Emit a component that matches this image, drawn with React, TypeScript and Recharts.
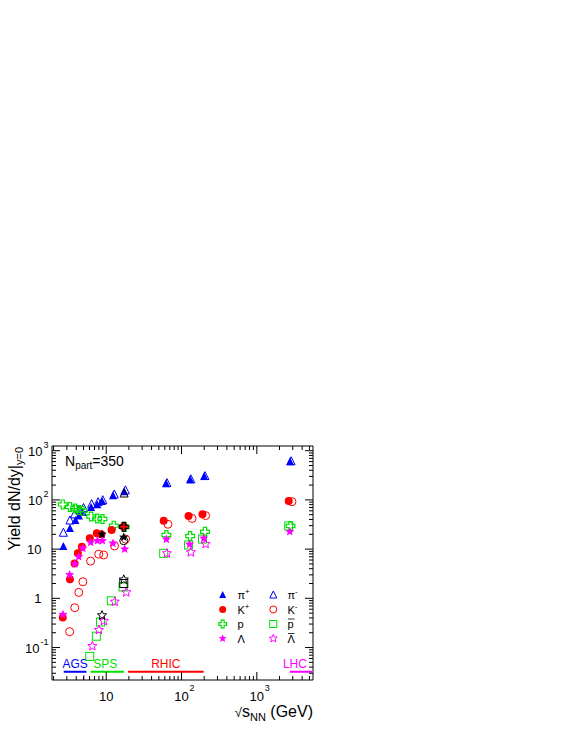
import React from "react";
import { ScatterChart, Scatter, XAxis, YAxis, ReferenceLine } from "recharts";

// sqrt(s_NN) in GeV and dN/dy at y=0
// (open markers are drawn a little to the right of the filled ones)
const piPlusE = [2.7, 3.3, 3.9, 4.35, 4.9, 6.3, 7.6, 8.8, 12.3, 17.3, 62.4, 130, 200, 2760];
const piPlusY = [11.5, 27, 39, 48, 57, 72, 82, 95, 125, 150, 218, 262, 305, 610];
const piMinusE = [2.7, 3.3, 3.8, 4.4, 5.0, 6.4, 7.8, 9.0, 12.8, 18.0, 64, 133, 205, 2850];
const piMinusY = [22, 39, 52, 63, 70, 84, 92, 101, 132, 160, 225, 268, 312, 625];
const kPlusE = [2.65, 3.3, 3.8, 4.2, 4.75, 6.05, 7.5, 8.6, 11.8, 17.0, 58, 124, 190, 2650];
const kPlusY = [0.41, 2.43, 5.1, 8.2, 11.2, 16.6, 21, 20, 24.4, 28.5, 37.8, 47, 51, 95];
const kMinusE = [3.27, 3.82, 4.32, 4.9, 6.2, 7.95, 9.25, 12.9, 18.1, 66, 138, 209, 2930];
const kMinusY = [0.21, 0.645, 1.32, 2.17, 5.7, 7.9, 7.6, 11.6, 16, 32, 42, 48, 92];
const protonE = [2.65, 3.3, 3.85, 4.35, 4.85, 6.3, 7.6, 8.9, 12.6, 17.6, 63, 130, 205, 2800];
const protonY = [81, 72, 67, 62, 60, 46, 42, 41, 30, 28, 19.4, 18.5, 22.6, 29.5];
const pbarE = [6.05, 7.4, 8.4, 11.7, 16.7, 58, 124, 190, 2650];
const pbarY = [0.066, 0.17, 0.33, 0.89, 1.7, 8.2, 12.1, 16, 29.5];
const lambdaE = [2.67, 3.27, 3.82, 4.32, 4.9, 6.22, 7.64, 8.9, 12.3, 17.6, 63, 128, 197, 2740];
const lambdaY = [0.47, 3.0, 5.0, 7.0, 10.4, 13.7, 14.8, 14.8, 13.1, 10, 15.8, 12.5, 16.6, 22.6];
const lambdaBarE = [6.55, 8.0, 9.3, 13.0, 18.5, 64, 133, 209];
const lambdaBarY = [0.107, 0.227, 0.346, 0.85, 1.32, 8.2, 8.6, 12.7];

// the black SPS points
const blackStarE = [8.8, 17.1];
const blackStarY = [20, 17.5];
const blackOpenStarE = [8.8, 17.1];
const blackOpenStarY = [0.45, 2.4];
const blackCircleE = [17.1];
const blackCircleY = [14.8];
const blackCrossE = [17.1];
const blackCrossY = [28.5];
const blackTriE = [17.3];
const blackTriY = [138];
const blackSquareE = [17.1];
const blackSquareY = [2.0];

// accelerator ranges drawn along the bottom
const rangeNames = ["AGS", "SPS", "RHIC", "LHC"];
const rangeFrom = [2.73, 6.22, 19.5, 2740];
const rangeTo = [5.46, 17.2, 197, 5400];
const rangeLevel = 0.0322;

const xTicks = [2, 3, 4, 5, 6, 7, 8, 9, 10, 20, 30, 40, 50, 60, 70, 80, 90, 100, 200, 300, 400, 500, 600, 700, 800, 900, 1000, 2000, 3000, 4000, 5000];
const yTicks = [0.03, 0.04, 0.05, 0.06, 0.07, 0.08, 0.09, 0.1, 0.2, 0.3, 0.4, 0.5, 0.6, 0.7, 0.8, 0.9, 1, 2, 3, 4, 5, 6, 7, 8, 9, 10, 20, 30, 40, 50, 60, 70, 80, 90, 100, 200, 300, 400, 500, 600, 700, 800, 900, 1000];

const BLUE = "#0000ff";
const RED = "#ff0000";
const GREEN = "#00e000";
const MAGENTA = "#ff00ff";
const BLACK = "#000000";
const FONT = "'Liberation Sans', Arial, Helvetica, sans-serif";

const pts = (xs: number[], ys: number[]) => xs.map((x, i) => ({ x, y: ys[i] }));

const isMajor = (v: number) => Math.abs(Math.log10(v) - Math.round(Math.log10(v))) < 1e-6;

function Marker({ kind, cx, cy, color, s = 4 }: any) {
  if (kind === "tri" || kind === "triOpen") {
    const p = `${cx},${cy - s} ${cx + s},${cy + s} ${cx - s},${cy + s}`;
    return kind === "tri" ? (
      <polygon points={p} fill={color} />
    ) : (
      <polygon points={p} fill="none" stroke={color} strokeWidth={1} />
    );
  }
  if (kind === "dot") return <circle cx={cx} cy={cy} r={s} fill={color} />;
  if (kind === "circle") return <circle cx={cx} cy={cy} r={s} fill="none" stroke={color} strokeWidth={1} />;
  if (kind === "square")
    return <rect x={cx - s} y={cy - s} width={2 * s} height={2 * s} fill="none" stroke={color} strokeWidth={1} />;
  if (kind === "cross") {
    const a = s * 0.4;
    const b = s * 1.1;
    const c = [
      [-a, -b], [a, -b], [a, -a], [b, -a], [b, a], [a, a],
      [a, b], [-a, b], [-a, a], [-b, a], [-b, -a], [-a, -a],
    ];
    return (
      <polygon
        points={c.map(([dx, dy]) => `${cx + dx},${cy + dy}`).join(" ")}
        fill="none"
        stroke={color}
        strokeWidth={1.2}
      />
    );
  }
  // stars
  const R = s * 1.2;
  const r = R * 0.45;
  const p: string[] = [];
  for (let i = 0; i < 10; i++) {
    const ang = -Math.PI / 2 + (i * Math.PI) / 5;
    const rr = i % 2 === 0 ? R : r;
    p.push(`${cx + rr * Math.cos(ang)},${cy + rr * Math.sin(ang)}`);
  }
  return kind === "star" ? (
    <polygon points={p.join(" ")} fill={color} />
  ) : (
    <polygon points={p.join(" ")} fill="none" stroke={color} strokeWidth={1} />
  );
}

const series = [
  { id: "pip", xs: piPlusE, ys: piPlusY, kind: "tri", color: BLUE },
  { id: "pim", xs: piMinusE, ys: piMinusY, kind: "triOpen", color: BLUE },
  { id: "p", xs: protonE, ys: protonY, kind: "cross", color: GREEN },
  { id: "pbar", xs: pbarE, ys: pbarY, kind: "square", color: GREEN },
  { id: "kp", xs: kPlusE, ys: kPlusY, kind: "dot", color: RED },
  { id: "km", xs: kMinusE, ys: kMinusY, kind: "circle", color: RED },
  { id: "lam", xs: lambdaE, ys: lambdaY, kind: "star", color: MAGENTA },
  { id: "lambar", xs: lambdaBarE, ys: lambdaBarY, kind: "starOpen", color: MAGENTA },
  { id: "bTri", xs: blackTriE, ys: blackTriY, kind: "triOpen", color: BLACK },
  { id: "bCross", xs: blackCrossE, ys: blackCrossY, kind: "cross", color: BLACK },
  { id: "bCircle", xs: blackCircleE, ys: blackCircleY, kind: "circle", color: BLACK },
  { id: "bSquare", xs: blackSquareE, ys: blackSquareY, kind: "square", color: BLACK },
  { id: "bStar", xs: blackStarE, ys: blackStarY, kind: "star", color: BLACK },
  { id: "bOpenStar", xs: blackOpenStarE, ys: blackOpenStarY, kind: "starOpen", color: BLACK },
];

const rangeColors = [BLUE, GREEN, RED, MAGENTA];
const rangeLabelShift = [0, -2, 0, -6];

const BottomTick = (props: any) => {
  const { x, y, payload } = props;
  const v = payload.value;
  const major = isMajor(v);
  const e = Math.round(Math.log10(v));
  return (
    <g>
      <line x1={x} x2={x} y1={y} y2={y - (major ? 8 : 4)} stroke="#000" />
      {major && (
        <g fontFamily={FONT} fill="#000">
          <text x={x} y={y + 21} textAnchor="middle" fontSize={13}>10</text>
          {e > 1 && <text x={x + 8} y={y + 11} fontSize={9}>{e}</text>}
        </g>
      )}
    </g>
  );
};

const TopTick = (props: any) => {
  const { x, y, payload } = props;
  const major = isMajor(payload.value);
  return <line x1={x} x2={x} y1={y} y2={y + (major ? 8 : 4)} stroke="#000" />;
};

const LeftTick = (props: any) => {
  const { x, y, payload } = props;
  const v = payload.value;
  const major = isMajor(v);
  const e = Math.round(Math.log10(v));
  let label = null;
  if (major) {
    if (e === 0 || e === 1) {
      label = (
        <text x={x - 10.5} y={y + 5} textAnchor="end" fontFamily={FONT} fontSize={13} fill="#000">
          {e === 0 ? "1" : "10"}
        </text>
      );
    } else {
      label = (
        <text x={x - 3.5} y={y + 5} textAnchor="end" fontFamily={FONT} fontSize={13} fill="#000">
          <tspan>10</tspan>
          <tspan dx={1} dy={-8} fontSize={9}>{e < 0 ? "-" + -e : e}</tspan>
        </text>
      );
    }
  }
  return (
    <g>
      <line x1={x} x2={x + (major ? 8 : 4)} y1={y} y2={y} stroke="#000" />
      {label}
    </g>
  );
};

const RightTick = (props: any) => {
  const { x, y, payload } = props;
  const major = isMajor(payload.value);
  return <line x1={x} x2={x - (major ? 8 : 4)} y1={y} y2={y} stroke="#000" />;
};

const RangeLabel = ({ viewBox, text, color, shift }: any) => {
  if (!viewBox) return null;
  const cx = viewBox.x + viewBox.width / 2 + shift;
  return (
    <text x={cx} y={viewBox.y - 4} textAnchor="middle" fontFamily={FONT} fontSize={12} fill={color}>
      {text}
    </text>
  );
};

const legendLeft = [
  { kind: "tri", color: BLUE, base: "π", sup: "+" },
  { kind: "dot", color: RED, base: "K", sup: "+" },
  { kind: "cross", color: GREEN, base: "p", sup: "" },
  { kind: "star", color: MAGENTA, base: "Λ", sup: "" },
];
const legendRight = [
  { kind: "triOpen", color: BLUE, base: "π", sup: "-", bar: false },
  { kind: "circle", color: RED, base: "K", sup: "-", bar: false },
  { kind: "square", color: GREEN, base: "p", sup: "", bar: true },
  { kind: "starOpen", color: MAGENTA, base: "Λ", sup: "", bar: true },
];
const legendRows = [594.5, 609.5, 624, 638.5];

const LegendEntry = ({ item, mx, tx, y }: any) => (
  <g>
    <Marker kind={item.kind} cx={mx} cy={y} color={item.color} s={3.5} />
    <text x={tx} y={y + 4} fontFamily={FONT} fontSize={11} fill="#000">
      <tspan>{item.base}</tspan>
      {item.sup && (
        <tspan dy={-5} fontSize={8}>
          {item.sup}
        </tspan>
      )}
    </text>
    {item.bar && <line x1={tx + 0.5} x2={tx + 7} y1={y - 5} y2={y - 5} stroke="#000" strokeWidth={0.8} />}
  </g>
);

export default function App() {
  return (
    <div style={{ position: "absolute", left: 0, top: 0, width: 567, height: 733, background: "#fff" }}>
      <ScatterChart width={567} height={733} margin={{ top: 445, right: 253, bottom: 52, left: 51 }}>
        <XAxis
          xAxisId="b"
          dataKey="x"
          type="number"
          scale="log"
          domain={[1.906, 5570]}
          allowDataOverflow
          ticks={xTicks}
          interval={0}
          height={1}
          tickSize={0}
          tickMargin={0}
          tickLine={false}
          axisLine={{ stroke: "#000" }}
          tick={BottomTick}
        />
        <XAxis
          xAxisId="t"
          orientation="top"
          dataKey="x"
          type="number"
          scale="log"
          domain={[1.906, 5570]}
          allowDataOverflow
          ticks={xTicks}
          interval={0}
          height={1}
          tickSize={0}
          tickMargin={0}
          tickLine={false}
          axisLine={{ stroke: "#000" }}
          tick={TopTick}
        />
        <YAxis
          yAxisId="l"
          dataKey="y"
          type="number"
          scale="log"
          domain={[0.0219, 1245]}
          allowDataOverflow
          ticks={yTicks}
          interval={0}
          width={1}
          tickSize={0}
          tickMargin={0}
          tickLine={false}
          axisLine={{ stroke: "#000" }}
          tick={LeftTick}
        />
        <YAxis
          yAxisId="r"
          orientation="right"
          dataKey="y"
          type="number"
          scale="log"
          domain={[0.0219, 1245]}
          allowDataOverflow
          ticks={yTicks}
          interval={0}
          width={1}
          tickSize={0}
          tickMargin={0}
          tickLine={false}
          axisLine={{ stroke: "#000" }}
          tick={RightTick}
        />
        {rangeNames.map((n, i) => (
          <ReferenceLine
            key={n}
            xAxisId="b"
            yAxisId="l"
            segment={[
              { x: rangeFrom[i], y: rangeLevel },
              { x: rangeTo[i], y: rangeLevel },
            ]}
            stroke={rangeColors[i]}
            strokeWidth={2}
            label={<RangeLabel text={n} color={rangeColors[i]} shift={rangeLabelShift[i]} />}
          />
        ))}
        <ReferenceLine
          xAxisId="b"
          yAxisId="l"
          segment={[
            { x: 5.07, y: 0.0219 },
            { x: 5.07, y: 0.0276 },
          ]}
          stroke={MAGENTA}
          strokeWidth={1}
        />
        {series.map((s) => (
          <Scatter
            key={s.id}
            xAxisId="b"
            yAxisId="l"
            data={pts(s.xs, s.ys)}
            isAnimationActive={false}
            shape={(p: any) => <Marker kind={s.kind} cx={p.cx} cy={p.cy} color={s.color} />}
          />
        ))}
      </ScatterChart>
      <svg
        width={567}
        height={733}
        style={{ position: "absolute", left: 0, top: 0, pointerEvents: "none" }}
      >
        <text x={65} y={466} fontFamily={FONT} fontSize={14} fill="#000">
          <tspan>N</tspan>
          <tspan dy={3} fontSize={10}>part</tspan>
          <tspan dy={-3}>=350</tspan>
        </text>
        <g transform="translate(20,447) rotate(-90)">
          <text x={0} y={0} textAnchor="end" fontFamily={FONT} fontSize={16} fill="#000">
            <tspan>Yield dN/dy|</tspan>
            <tspan dy={3} fontSize={11}>y=0</tspan>
          </text>
        </g>
        <text x={313} y={717} textAnchor="end" fontFamily={FONT} fontSize={16} fill="#000">
          <tspan fontSize={13}>√</tspan>
          <tspan>s</tspan>
          <tspan dy={4} fontSize={11}>NN</tspan>
          <tspan dy={-4}> (GeV)</tspan>
        </text>
        {legendLeft.map((it, i) => (
          <LegendEntry key={"l" + i} item={it} mx={222.7} tx={237.5} y={legendRows[i]} />
        ))}
        {legendRight.map((it, i) => (
          <LegendEntry key={"r" + i} item={it} mx={273.3} tx={287.5} y={legendRows[i]} />
        ))}
      </svg>
    </div>
  );
}
